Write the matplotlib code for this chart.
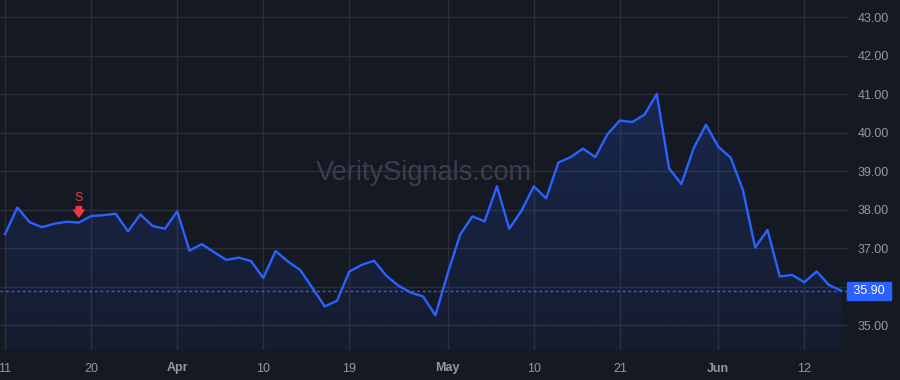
import numpy as np
import pandas as pd
import matplotlib
matplotlib.use("Agg")
import matplotlib.pyplot as plt
from matplotlib.transforms import blended_transform_factory

# 取引日 (2024-03-11 .. 2024-06-17, 祝日除く)
holidays = ["2024-03-29", "2024-05-27"]
dates = [d for d in pd.bdate_range("2024-03-11", "2024-06-17") if d.strftime("%Y-%m-%d") not in holidays]

prices = [37.37, 38.06, 37.68, 37.55, 37.64, 37.69, 37.67, 37.84, 37.86, 37.90,
          37.44, 37.88, 37.58, 37.51, 37.96, 36.94, 37.11, 36.90, 36.70, 36.76,
          36.67, 36.23, 36.93, 36.66, 36.44, 35.97, 35.49, 35.64, 36.40, 36.57,
          36.68, 36.29, 36.03, 35.85, 35.75, 35.26, 36.35, 37.35, 37.83, 37.70,
          38.61, 37.51, 37.98, 38.61, 38.30, 39.23, 39.37, 39.59, 39.37, 39.97,
          40.32, 40.28, 40.47, 41.01, 39.08, 38.67, 39.60, 40.21, 39.64, 39.36,
          38.52, 37.02, 37.48, 36.27, 36.31, 36.12, 36.40, 36.05, 35.90]

tick_idx = [0, 7, 14, 21, 28, 36, 43, 50, 58, 65]
tick_labels = ["11", "20", "Apr", "10", "19", "May", "10", "21", "Jun", "12"]
y_ticks = [35, 36, 37, 38, 39, 40, 41, 42, 43]
signal_idx = 6
last_price = prices[-1]

BG = "#151924"
GRID = "#2a2e39"
BLUE = "#2962ff"
TXT = "#9598a1"
RED = "#f23645"

x = np.arange(len(prices))
y = np.array(prices)

fig = plt.figure(figsize=(9, 3.8), dpi=100, facecolor=BG)
ax = fig.add_axes([0, 30 / 380, 848 / 900, 350 / 380])
ax.set_facecolor(BG)
ymin, ymax = 34.36, 43.45
ax.set_xlim(-0.41, 68.55)
ax.set_ylim(ymin, ymax)

for s in ax.spines.values():
    s.set_visible(False)

# グリッド
for t in tick_idx:
    ax.axvline(t, color=GRID, lw=1, zorder=0)
for t in y_ticks:
    ax.axhline(t, color=GRID, lw=1, zorder=0)

# ウォーターマーク
ax.text(0.5, 0.506, "VeritySignals.com", transform=ax.transAxes, ha="center", va="center",
        fontsize=19.5, color="#3b3f4b", family="Liberation Sans", zorder=1)

# グラデーション塗り
poly = ax.fill_between(x, y, ymin, color="none", lw=0)
grad = np.linspace(0.24, 0.05, 256).reshape(-1, 1)
rgba = np.zeros((256, 1, 4))
rgba[..., 0] = 41 / 255
rgba[..., 1] = 98 / 255
rgba[..., 2] = 1.0
rgba[..., 3] = grad
img = ax.imshow(rgba, extent=[x[0], x[-1], ymin, ymax], aspect="auto", origin="upper", zorder=2)
img.set_clip_path(poly.get_paths()[0], transform=ax.transData)

ax.plot(x, y, color=BLUE, lw=1.7, zorder=3)

# 現在値ライン
ax.axhline(last_price, color=BLUE, lw=1, ls=(0, (2, 2)), zorder=3)

# シグナル
ax.annotate("", xy=(signal_idx, prices[signal_idx]), xytext=(0, 11.5), textcoords="offset points",
            arrowprops=dict(arrowstyle="simple,head_width=0.75,head_length=0.5,tail_width=0.38",
                            color=RED, shrinkA=0, shrinkB=4), zorder=4)
ax.annotate("S", xy=(signal_idx, prices[signal_idx]), xytext=(0, 17.5), textcoords="offset points",
            ha="center", va="center", color=RED, fontsize=9, family="Liberation Sans")

# 軸
ax.yaxis.tick_right()
ax.set_yticks(y_ticks)
ax.set_yticklabels([f"{t:.2f}" for t in y_ticks])
ax.set_xticks(tick_idx)
ax.set_xticklabels(tick_labels)
ax.tick_params(axis="both", length=0, colors=TXT, labelsize=9)
ax.tick_params(axis="y", pad=7)
ax.tick_params(axis="x", pad=9)
for lab in ax.get_xticklabels() + ax.get_yticklabels():
    lab.set_family("Liberation Sans")
    if lab.get_text() in ("Apr", "May", "Jun"):
        lab.set_fontweight("bold")

# 価格ラベル
tr = blended_transform_factory(ax.transAxes, ax.transData)
ax.text(1.0 + 2 / 848, last_price, " 35.90 ", transform=tr, ha="left", va="center",
        color="white", fontsize=9, family="Liberation Sans", zorder=10, clip_on=False,
        bbox=dict(boxstyle="square,pad=0.25", fc=BLUE, ec=BLUE))

fig.savefig("out.png", dpi=100, facecolor=BG)
